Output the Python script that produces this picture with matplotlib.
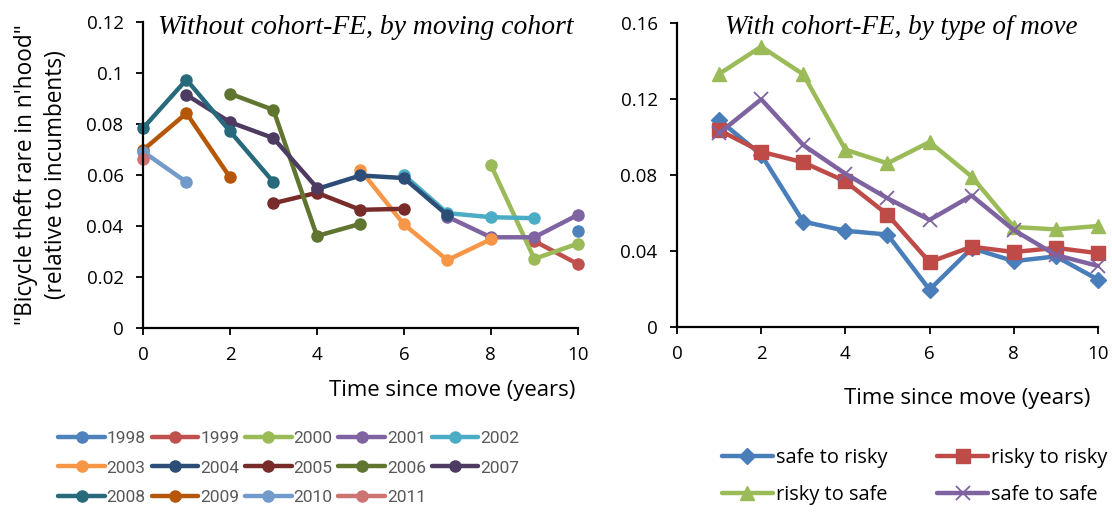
import matplotlib
matplotlib.use("Agg")
import matplotlib.pyplot as plt

# left panel: one series per moving cohort, starting at the year given in cohort_start
cohorts = ["1998", "1999", "2000", "2001", "2002", "2003", "2004",
           "2005", "2006", "2007", "2008", "2009", "2010", "2011"]
cohort_start = [10, 9, 8, 7, 6, 5, 4, 3, 2, 1, 0, 0, 0, 0]
cohort_values = [
    [0.038],
    [0.034, 0.025],
    [0.064, 0.027, 0.033],
    [0.0436, 0.0355, 0.0355, 0.0443],
    [0.0600, 0.0450, 0.0434, 0.0430],
    [0.0620, 0.0406, 0.0265, 0.0347],
    [0.0545, 0.0598, 0.0588, 0.0442],
    [0.0489, 0.0530, 0.0463, 0.0467],
    [0.0920, 0.0856, 0.0360, 0.0408],
    [0.0915, 0.0808, 0.0745, 0.0550],
    [0.0784, 0.0975, 0.0772, 0.0572],
    [0.0698, 0.0843, 0.0591],
    [0.0692, 0.0572],
    [0.0663],
]
cohort_colors = ["#4F81BD", "#C0504D", "#9BBB59", "#8064A2", "#4BACC6", "#F79646",
                 "#2C4D75", "#772C2A", "#5F7530", "#4D3B62", "#276A7C", "#B65708",
                 "#729ACA", "#CD7371"]

# right panel: by type of move
years_since = [1, 2, 3, 4, 5, 6, 7, 8, 9, 10]
safe_to_risky = [0.1088, 0.0905, 0.0553, 0.0505, 0.0485, 0.0195, 0.0413, 0.0345, 0.0370, 0.0248]
risky_to_risky = [0.1035, 0.0921, 0.0865, 0.0765, 0.0590, 0.0340, 0.0421, 0.0393, 0.0415, 0.0387]
risky_to_safe = [0.1330, 0.1474, 0.1328, 0.0932, 0.0860, 0.0972, 0.0790, 0.0525, 0.0512, 0.0530]
safe_to_safe = [0.1018, 0.1197, 0.0956, 0.0805, 0.0676, 0.0562, 0.0690, 0.0509, 0.0377, 0.0320]
move_labels = ["safe to risky", "risky to risky", "risky to safe", "safe to safe"]
move_colors = ["#4A7EBB", "#BE4B48", "#9BBB59", "#7F63A1"]
move_markers = ["D", "s", "^", "x"]
move_msize = [8, 9.5, 10.5, 10]

sans = ["Open Sans", "DejaVu Sans"]
serif = ["Liberation Serif", "DejaVu Serif"]
plt.rcParams['font.family'] = sans
plt.rcParams['font.size'] = 13.5


def style_axes(ax):
    for s in ["top", "right"]:
        ax.spines[s].set_visible(False)
    for s in ["left", "bottom"]:
        ax.spines[s].set_linewidth(1.6)
        ax.spines[s].set_color("black")
    ax.tick_params(direction="out", length=5, width=1.3, colors="black", labelsize=13.5)
    ax.tick_params(axis="y", pad=9)
    ax.tick_params(axis="x", pad=8)


def row_major(items, ncol):
    # legend fills columns first; reorder so entries read across rows
    nrow = -(-len(items) // ncol)
    out = []
    for c in range(ncol):
        for r in range(nrow):
            i = r * ncol + c
            if i < len(items):
                out.append(items[i])
    return out


fig = plt.figure(figsize=(11.12, 5.14), dpi=100)

# ---------------- left panel ----------------
axl = fig.add_axes([0.1286, 0.3628, 0.391, 0.5935])
for name, t0, vals, col in zip(cohorts, cohort_start, cohort_values, cohort_colors):
    xs = list(range(t0, t0 + len(vals)))
    axl.plot(xs, vals, color=col, lw=3.2, marker="o", ms=8, mec=col, mfc=col,
             solid_capstyle="round", solid_joinstyle="round", label=name, clip_on=False)
axl.set_xlim(0, 10)
axl.set_ylim(0, 0.12)
axl.set_xticks([0, 2, 4, 6, 8, 10])
axl.set_yticks([0, 0.02, 0.04, 0.06, 0.08, 0.10, 0.12])
axl.set_yticklabels(["0", "0.02", "0.04", "0.06", "0.08", "0.1", "0.12"])
style_axes(axl)
axl.set_ylabel("\"Bicycle theft rare in n'hood\"\n(relative to incumbents)",
               fontsize=16.3, linespacing=1.35)
axl.yaxis.set_label_coords(-0.172, 0.5)
axl.set_xlabel("Time since move (years)", fontsize=15.9, ha="right", va="center")
axl.xaxis.set_label_coords(0.995, -0.205)
axl.text(0.035, 0.985, "Without cohort-FE, by moving cohort", transform=axl.transAxes,
         family=serif, style="italic", fontsize=19.9, ha="left", va="center")

h, l = axl.get_legend_handles_labels()
leg1 = fig.legend(row_major(h, 5), row_major(l, 5), ncol=5, loc="center left",
                  bbox_to_anchor=(0.046, 0.0895), frameon=False,
                  prop={"family": ["Roboto", "DejaVu Sans"], "size": 12.5},
                  handlelength=2.7, handletextpad=0.1, columnspacing=0.33,
                  labelspacing=0.82, borderaxespad=0)
for t in leg1.get_texts():
    t.set_color("#595959")

# ---------------- right panel ----------------
axr = fig.add_axes([0.6088, 0.3644, 0.3786, 0.5914])
series = [safe_to_risky, risky_to_risky, risky_to_safe, safe_to_safe]
for vals, lab, col, mk, ms in zip(series, move_labels, move_colors, move_markers, move_msize):
    axr.plot(years_since, vals, color=col, lw=3.2, marker=mk, ms=ms, mec=col, mfc=col,
             mew=1.3 if mk == "x" else 1, solid_capstyle="round",
             solid_joinstyle="round", label=lab, clip_on=False)
axr.set_xlim(0, 10)
axr.set_ylim(0, 0.16)
axr.set_xticks([0, 2, 4, 6, 8, 10])
axr.set_yticks([0, 0.04, 0.08, 0.12, 0.16])
axr.set_yticklabels(["0", "0.04", "0.08", "0.12", "0.16"])
style_axes(axr)
axr.set_xlabel("Time since move (years)", fontsize=15.9, ha="right", va="center")
axr.xaxis.set_label_coords(0.981, -0.235)
axr.text(0.532, 0.985, "With cohort-FE, by type of move", transform=axr.transAxes,
         family=serif, style="italic", fontsize=19.5, ha="center", va="center")

h, l = axr.get_legend_handles_labels()
leg2 = fig.legend(row_major(h, 2), row_major(l, 2), ncol=2, loc="center left",
                  bbox_to_anchor=(0.642, 0.073), frameon=False, fontsize=14.4,
                  handlelength=2.55, handletextpad=0.15, columnspacing=2.5,
                  labelspacing=0.85, borderaxespad=0)

fig.savefig("out.png", dpi=100)
